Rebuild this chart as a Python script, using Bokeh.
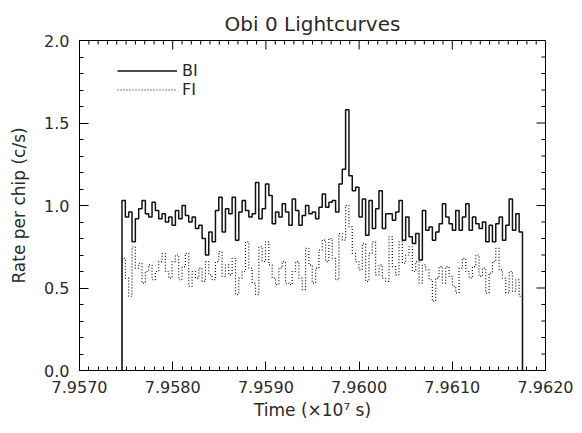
import math

from bokeh.plotting import figure
from bokeh.models import (Range1d, SingleIntervalTicker, PrintfTickFormatter,
                          Legend, LegendItem)
from bokeh.embed import file_html
from bokeh.resources import INLINE

# Time span of the light curves (units of 1e7 s)
t_start = 7.957456
t_stop = 7.961753

# Count rate per chip in each time bin (c/s)
bi_rate = [
    1.03, 0.93, 0.96, 0.78, 0.92, 0.98, 1.03, 0.95, 0.93, 1.02,
    0.97, 0.92, 0.95, 0.90, 0.93, 0.88, 0.97, 0.92, 1.00, 0.94,
    0.90, 0.93, 0.86, 0.88, 0.80, 0.70, 0.84, 0.78, 0.97, 1.05,
    0.84, 0.98, 0.95, 1.05, 0.79, 0.96, 1.03, 0.97, 0.93, 0.95,
    1.14, 0.92, 0.98, 1.13, 1.06, 0.89, 0.96, 0.93, 1.01, 0.96,
    0.88, 1.04, 0.97, 0.88, 0.94, 1.00, 0.95, 0.96, 0.92, 0.99,
    1.07, 0.99, 1.02, 1.03, 0.96, 1.13, 1.22, 1.58, 1.18, 1.09,
    1.11, 0.93, 1.04, 0.82, 1.03, 0.86, 0.98, 1.09, 0.86, 0.95,
    0.95, 0.91, 0.96, 1.03, 0.79, 0.93, 0.81, 0.77, 0.83, 0.67,
    0.97, 0.85, 0.87, 0.79, 0.84, 0.89, 1.01, 0.93, 0.89, 0.85,
    0.97, 0.85, 0.93, 1.01, 0.85, 0.93, 0.89, 0.86, 0.90, 0.78,
    0.88, 0.78, 0.89, 0.93, 0.79, 0.88, 1.04, 0.85, 0.95, 0.84,
]

fi_rate = [
    0.68, 0.56, 0.45, 0.75, 0.62, 0.65, 0.53, 0.60, 0.64, 0.55,
    0.60, 0.66, 0.71, 0.60, 0.56, 0.66, 0.70, 0.55, 0.63, 0.71,
    0.51, 0.60, 0.56, 0.62, 0.54, 0.66, 0.58, 0.55, 0.66, 0.72,
    0.57, 0.64, 0.58, 0.68, 0.46, 0.56, 0.60, 0.78, 0.62, 0.53,
    0.46, 0.75, 0.66, 0.78, 0.64, 0.56, 0.52, 0.62, 0.66, 0.53,
    0.52, 0.60, 0.66, 0.56, 0.49, 0.74, 0.64, 0.53, 0.62, 0.73,
    0.79, 0.66, 0.80, 0.68, 0.55, 0.83, 0.79, 1.00, 0.87, 0.71,
    0.66, 0.61, 0.77, 0.54, 0.71, 0.78, 0.58, 0.64, 0.56, 0.54,
    0.81, 0.63, 0.58, 0.78, 0.65, 0.70, 0.75, 0.60, 0.66, 0.53,
    0.64, 0.61, 0.55, 0.42, 0.56, 0.63, 0.53, 0.63, 0.57, 0.51,
    0.47, 0.62, 0.68, 0.60, 0.56, 0.63, 0.70, 0.57, 0.62, 0.47,
    0.59, 0.66, 0.74, 0.61, 0.56, 0.47, 0.60, 0.48, 0.55, 0.45,
]

FONT = "DejaVu Sans"
INK = "#2a2a2a"

X_LO, X_HI = 7.957, 7.962
Y_LO, Y_HI = 0.0, 2.0

n_bins = len(bi_rate)
bin_width = (t_stop - t_start) / n_bins
edges = [t_start + i * bin_width for i in range(n_bins + 1)]


def histogram_path(rates):
    """Stepped outline of a binned light curve, closed down to zero."""
    xs, ys = [edges[0]], [0.0]
    for i, r in enumerate(rates):
        xs += [edges[i], edges[i + 1]]
        ys += [r, r]
    xs.append(edges[-1])
    ys.append(0.0)
    return xs, ys


p = figure(width=582, height=433, output_backend="svg", toolbar_location=None,
           x_range=Range1d(X_LO, X_HI), y_range=Range1d(Y_LO, Y_HI),
           min_border_left=79, min_border_right=37,
           min_border_top=40, min_border_bottom=63,
           title="Obi 0 Lightcurves")

p.title.align = "center"
p.title.text_font = FONT
p.title.text_font_size = "20px"
p.title.text_font_style = "normal"
p.title.text_color = INK
p.title.standoff = 9

p.background_fill_color = "white"
p.border_fill_color = "white"
p.outline_line_color = "black"
p.outline_line_width = 1
p.xgrid.visible = False
p.ygrid.visible = False

bx, by = histogram_path(bi_rate)
fx, fy = histogram_path(fi_rate)
fi_line = p.line(fx, fy, line_color="#111111", line_width=1.2, line_dash="1 2")
bi_line = p.line(bx, by, line_color="#111111", line_width=1.5)

X_MAJOR, X_MINOR_N = 0.001, 10
Y_MAJOR, Y_MINOR_N = 0.5, 5
MAJOR_LEN, MINOR_LEN = 9, 4

x_ticker = SingleIntervalTicker(interval=X_MAJOR, num_minor_ticks=X_MINOR_N)
y_ticker = SingleIntervalTicker(interval=Y_MAJOR, num_minor_ticks=Y_MINOR_N)


def style_axis(ax):
    ax.axis_line_color = "black"
    ax.major_tick_in = MAJOR_LEN
    ax.major_tick_out = 0
    ax.minor_tick_in = MINOR_LEN
    ax.minor_tick_out = 0
    ax.major_tick_line_color = "black"
    ax.minor_tick_line_color = "black"
    ax.major_label_text_font = FONT
    ax.major_label_text_color = INK
    ax.major_label_text_font_size = "16px"
    ax.axis_label_text_font = FONT
    ax.axis_label_text_color = INK
    ax.axis_label_text_font_style = "normal"
    ax.axis_label_text_font_size = "17px"


xa = p.xaxis[0]
xa.ticker = x_ticker
xa.formatter = PrintfTickFormatter(format="%.4f")
xa.axis_label = "Time (\u00d710\u2077 s)"
xa.major_label_standoff = 10
xa.axis_label_standoff = 4
style_axis(xa)

ya = p.yaxis[0]
ya.ticker = y_ticker
ya.formatter = PrintfTickFormatter(format="%.1f")
ya.axis_label = "Rate per chip (c/s)"
ya.major_label_standoff = 10
ya.axis_label_standoff = 12
style_axis(ya)

# Mirror the tick marks on the top and right edges of the frame
x_minor_step = X_MAJOR / X_MINOR_N
n_x = int(round((X_HI - X_LO) / x_minor_step))
x_tick_vals = [X_LO + k * x_minor_step for k in range(1, n_x)]
x_tick_len = [MAJOR_LEN if k % X_MINOR_N == 0 else MINOR_LEN for k in range(1, n_x)]
p.ray(x=x_tick_vals, y=Y_HI, length=x_tick_len, length_units="screen",
      angle=-math.pi / 2, line_color="black", line_width=1)

y_minor_step = Y_MAJOR / Y_MINOR_N
n_y = int(round((Y_HI - Y_LO) / y_minor_step))
y_tick_vals = [Y_LO + k * y_minor_step for k in range(1, n_y)]
y_tick_len = [MAJOR_LEN if k % Y_MINOR_N == 0 else MINOR_LEN for k in range(1, n_y)]
p.ray(x=X_HI, y=y_tick_vals, length=y_tick_len, length_units="screen",
      angle=math.pi, line_color="black", line_width=1)

legend = Legend(items=[LegendItem(label="BI", renderers=[bi_line]),
                       LegendItem(label="FI", renderers=[fi_line])],
                location=(38, 271), orientation="vertical",
                glyph_width=60, glyph_height=17, label_height=17,
                label_standoff=5, spacing=0, padding=0, margin=0,
                border_line_alpha=0, background_fill_alpha=0,
                label_text_font=FONT, label_text_font_size="16px",
                label_text_color=INK)
p.add_layout(legend)

open("out.html", "w").write(file_html(p, INLINE))
